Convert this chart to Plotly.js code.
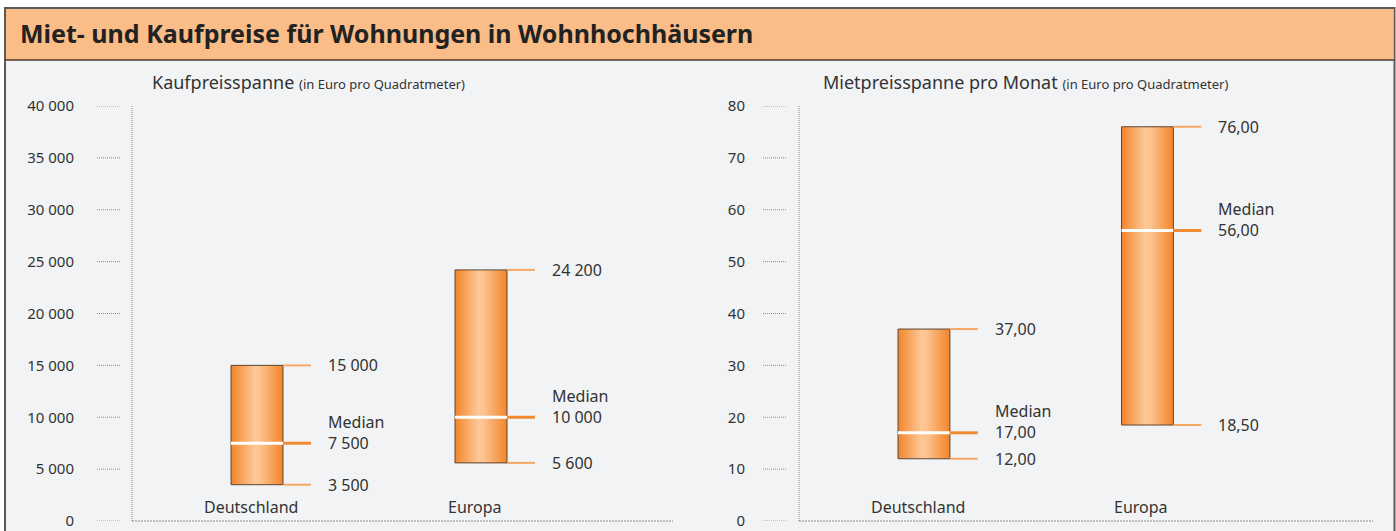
<!DOCTYPE html>
<html>
<head>
<meta charset="utf-8">
<script src="https://cdn.plot.ly/plotly-3.0.1.min.js"></script>
<style>html,body{margin:0;padding:0;background:#fff;}#chart{width:1396px;height:531px;}</style>
</head>
<body>
<div id="chart"></div>
<script>
// ---- data ----
const categories = ['Deutschland', 'Europa'];
const kaufMin = [3500, 5600];
const kaufMax = [15000, 24200];
const kaufMedian = [7500, 10000];
const mietMin = [12, 18.5];
const mietMax = [37, 76];
const mietMedian = [17, 56];
const kaufTicks = [0, 5000, 10000, 15000, 20000, 25000, 30000, 35000, 40000];
const mietTicks = [0, 10, 20, 30, 40, 50, 60, 70, 80];

// ---- style ----
const FONT = '"Noto Sans", "DejaVu Sans", sans-serif';
const TXT = '#333333';
const BW = 0.232;       // bar width (axis units)
const WL = 0.125;       // whisker length (axis units)
const W = 1396, H = 531;

function fmtKauf(v) {
  return String(Math.round(v)).replace(/\B(?=(\d{3})+(?!\d))/g, ' ');
}
function fmtMiet(v) {
  return v.toFixed(2).replace('.', ',');
}
function fmtMietTick(v) { return String(v); }

const traces = [];
const annotations = [];
const shapes = [];

// frame + title bar
shapes.push({type: 'rect', xref: 'paper', yref: 'paper', layer: 'below',
  x0: 5 / W, x1: 1394.5 / W, y0: -0.02, y1: 1 - 8 / H,
  fillcolor: '#F2F3F5', line: {color: '#5a5a5a', width: 2}});
shapes.push({type: 'rect', xref: 'paper', yref: 'paper', layer: 'below',
  x0: 6 / W, x1: 1393.5 / W, y0: 1 - 60 / H, y1: 1 - 9 / H,
  fillcolor: '#FBBD88', line: {width: 0}});
shapes.push({type: 'line', xref: 'paper', yref: 'paper', layer: 'below',
  x0: 5 / W, x1: 1394.5 / W, y0: 1 - 60 / H, y1: 1 - 60 / H,
  line: {color: '#4d3a2e', width: 1.5}});

function panel(sfx, mins, maxs, meds, ticks, fmt, tickX0, tickX1) {
  const xa = 'x' + sfx, ya = 'y' + sfx;
  const xs = categories.map((c, i) => i);
  // bars
  traces.push({
    type: 'bar', x: xs, y: maxs.map((m, i) => m - mins[i]), base: mins,
    width: BW, xaxis: xa, yaxis: ya, hoverinfo: 'skip',
    marker: {color: '#F6A45C', line: {color: '#5e4632', width: 1}}
  });
  // whiskers (top/bottom)
  const wx = [], wy = [];
  xs.forEach((x, i) => {
    [mins[i], maxs[i]].forEach(v => {
      wx.push(x + BW / 2, x + BW / 2 + WL, null);
      wy.push(v, v, null);
    });
  });
  traces.push({type: 'scatter', mode: 'lines', x: wx, y: wy, xaxis: xa, yaxis: ya,
    hoverinfo: 'skip', line: {color: '#F7A764', width: 2}});
  // median in bar (white) + outside (orange)
  const mx = [], my = [], ox = [], oy = [];
  xs.forEach((x, i) => {
    mx.push(x - BW / 2, x + BW / 2, null); my.push(meds[i], meds[i], null);
    ox.push(x + BW / 2, x + BW / 2 + WL, null); oy.push(meds[i], meds[i], null);
  });
  traces.push({type: 'scatter', mode: 'lines', x: mx, y: my, xaxis: xa, yaxis: ya,
    hoverinfo: 'skip', line: {color: '#ffffff', width: 3}});
  traces.push({type: 'scatter', mode: 'lines', x: ox, y: oy, xaxis: xa, yaxis: ya,
    hoverinfo: 'skip', line: {color: '#F28A30', width: 3}});
  // labels
  const lf = {family: FONT, size: 16, color: TXT};
  xs.forEach((x, i) => {
    [maxs[i], mins[i]].forEach(v => annotations.push({
      xref: xa, yref: ya, x: x + BW / 2, y: v, xshift: 43, xanchor: 'left', yanchor: 'middle',
      text: fmt(v), showarrow: false, font: lf
    }));
    annotations.push({
      xref: xa, yref: ya, x: x + BW / 2, y: meds[i], xshift: 43, yshift: 11, xanchor: 'left', yanchor: 'middle',
      align: 'left', text: 'Median<br>' + fmt(meds[i]), showarrow: false, font: lf
    });
    annotations.push({
      xref: xa, yref: ya, x: x, y: 0, xshift: -6, yshift: 1, xanchor: 'center', yanchor: 'bottom',
      text: categories[i], showarrow: false, font: lf
    });
  });
  // dotted tick marks
  ticks.forEach(t => shapes.push({type: 'line', xref: xa + ' domain', yref: ya,
    x0: tickX0, x1: tickX1, y0: t, y1: t, line: {color: '#8f8f8f', width: 1, dash: '1px,1px'}}));
  // dotted axis lines
  shapes.push({type: 'line', xref: xa + ' domain', yref: ya + ' domain', x0: 0, x1: 0, y0: 0, y1: 1,
    line: {color: '#8a8a8a', width: 1, dash: '1px,1px'}});
  shapes.push({type: 'line', xref: xa + ' domain', yref: ya + ' domain', x0: 0, x1: 1, y0: 0, y1: 0,
    line: {color: '#8a8a8a', width: 1.2, dash: '2px,1px'}});
}

panel('', kaufMin, kaufMax, kaufMedian, kaufTicks, fmtKauf, -35 / 541, -12 / 541);
panel('2', mietMin, mietMax, mietMedian, mietTicks, fmtMiet, -36 / 574, -12 / 574);

// subtitles
annotations.push({xref: 'paper', yref: 'paper', x: 150 / W, y: 1 - 82 / H, xanchor: 'left', yanchor: 'middle',
  showarrow: false, font: {family: FONT, size: 18, color: TXT},
  text: 'Kaufpreisspanne <span style="font-size:13px">(in Euro pro Quadratmeter)</span>'});
annotations.push({xref: 'paper', yref: 'paper', x: 821 / W, y: 1 - 82 / H, xanchor: 'left', yanchor: 'middle',
  showarrow: false, font: {family: FONT, size: 18, color: TXT},
  text: 'Mietpreisspanne pro Monat <span style="font-size:13px">(in Euro pro Quadratmeter)</span>'});

const yDom = [1 - 521 / H, 1 - 106 / H];
const baseY = {
  showgrid: false, zeroline: false, showline: false, ticks: 'outside', tickcolor: 'rgba(0,0,0,0)',
  automargin: false, fixedrange: true, tickmode: 'array', ticklabeloverflow: 'allow',
  tickfont: {family: FONT, size: 15, color: TXT}
};
const baseX = {showgrid: false, zeroline: false, showline: false, showticklabels: false, ticks: '',
  automargin: false, fixedrange: true};

const layout = {
  width: W, height: H,
  margin: {l: 0, r: 0, t: 0, b: 0},
  paper_bgcolor: '#ffffff', plot_bgcolor: 'rgba(0,0,0,0)',
  separators: ', ',
  showlegend: false,
  barmode: 'overlay',
  title: {text: '<b>Miet- und Kaufpreise für Wohnungen in Wohnhochhäusern</b>', xref: 'paper', yref: 'paper',
    x: 20 / W, xanchor: 'left', y: 1 - 34 / H, yanchor: 'middle',
    font: {family: FONT, size: 25, color: '#222222'}},
  xaxis: Object.assign({}, baseX, {domain: [132 / W, 673 / W], range: [-0.558, 1.857]}),
  yaxis: Object.assign({}, baseY, {domain: yDom, range: [-0.0001, 40000], tickvals: kaufTicks,
    ticktext: kaufTicks.map(fmtKauf), ticklen: 54}),
  xaxis2: Object.assign({}, baseX, {domain: [799 / W, 1373 / W], range: [-0.559, 2.009], anchor: 'y2'}),
  yaxis2: Object.assign({}, baseY, {domain: yDom, range: [-0.0000001, 80], tickvals: mietTicks,
    ticktext: mietTicks.map(fmtMietTick), ticklen: 50, anchor: 'x2'}),
  shapes: shapes,
  annotations: annotations
};

Plotly.newPlot('chart', traces, layout, {displayModeBar: false, staticPlot: true}).then(gd => {
  const NS = 'http://www.w3.org/2000/svg';
  const svg = gd.querySelector('.main-svg');
  let defs = svg.querySelector('defs');
  if (!defs) { defs = document.createElementNS(NS, 'defs'); svg.insertBefore(defs, svg.firstChild); }
  const g = document.createElementNS(NS, 'linearGradient');
  g.setAttribute('id', 'barGrad');
  g.setAttribute('x1', '0'); g.setAttribute('x2', '1'); g.setAttribute('y1', '0'); g.setAttribute('y2', '0');
  [['0%', '#F2852A'], ['45%', '#FDC796'], ['55%', '#FCC390'], ['100%', '#F2852A']].forEach(([o, c]) => {
    const s = document.createElementNS(NS, 'stop');
    s.setAttribute('offset', o); s.setAttribute('stop-color', c);
    g.appendChild(s);
  });
  defs.appendChild(g);
  gd.querySelectorAll('.barlayer .point path').forEach(p => { p.style.fill = 'url(#barGrad)'; });
});
</script>
</body>
</html>
